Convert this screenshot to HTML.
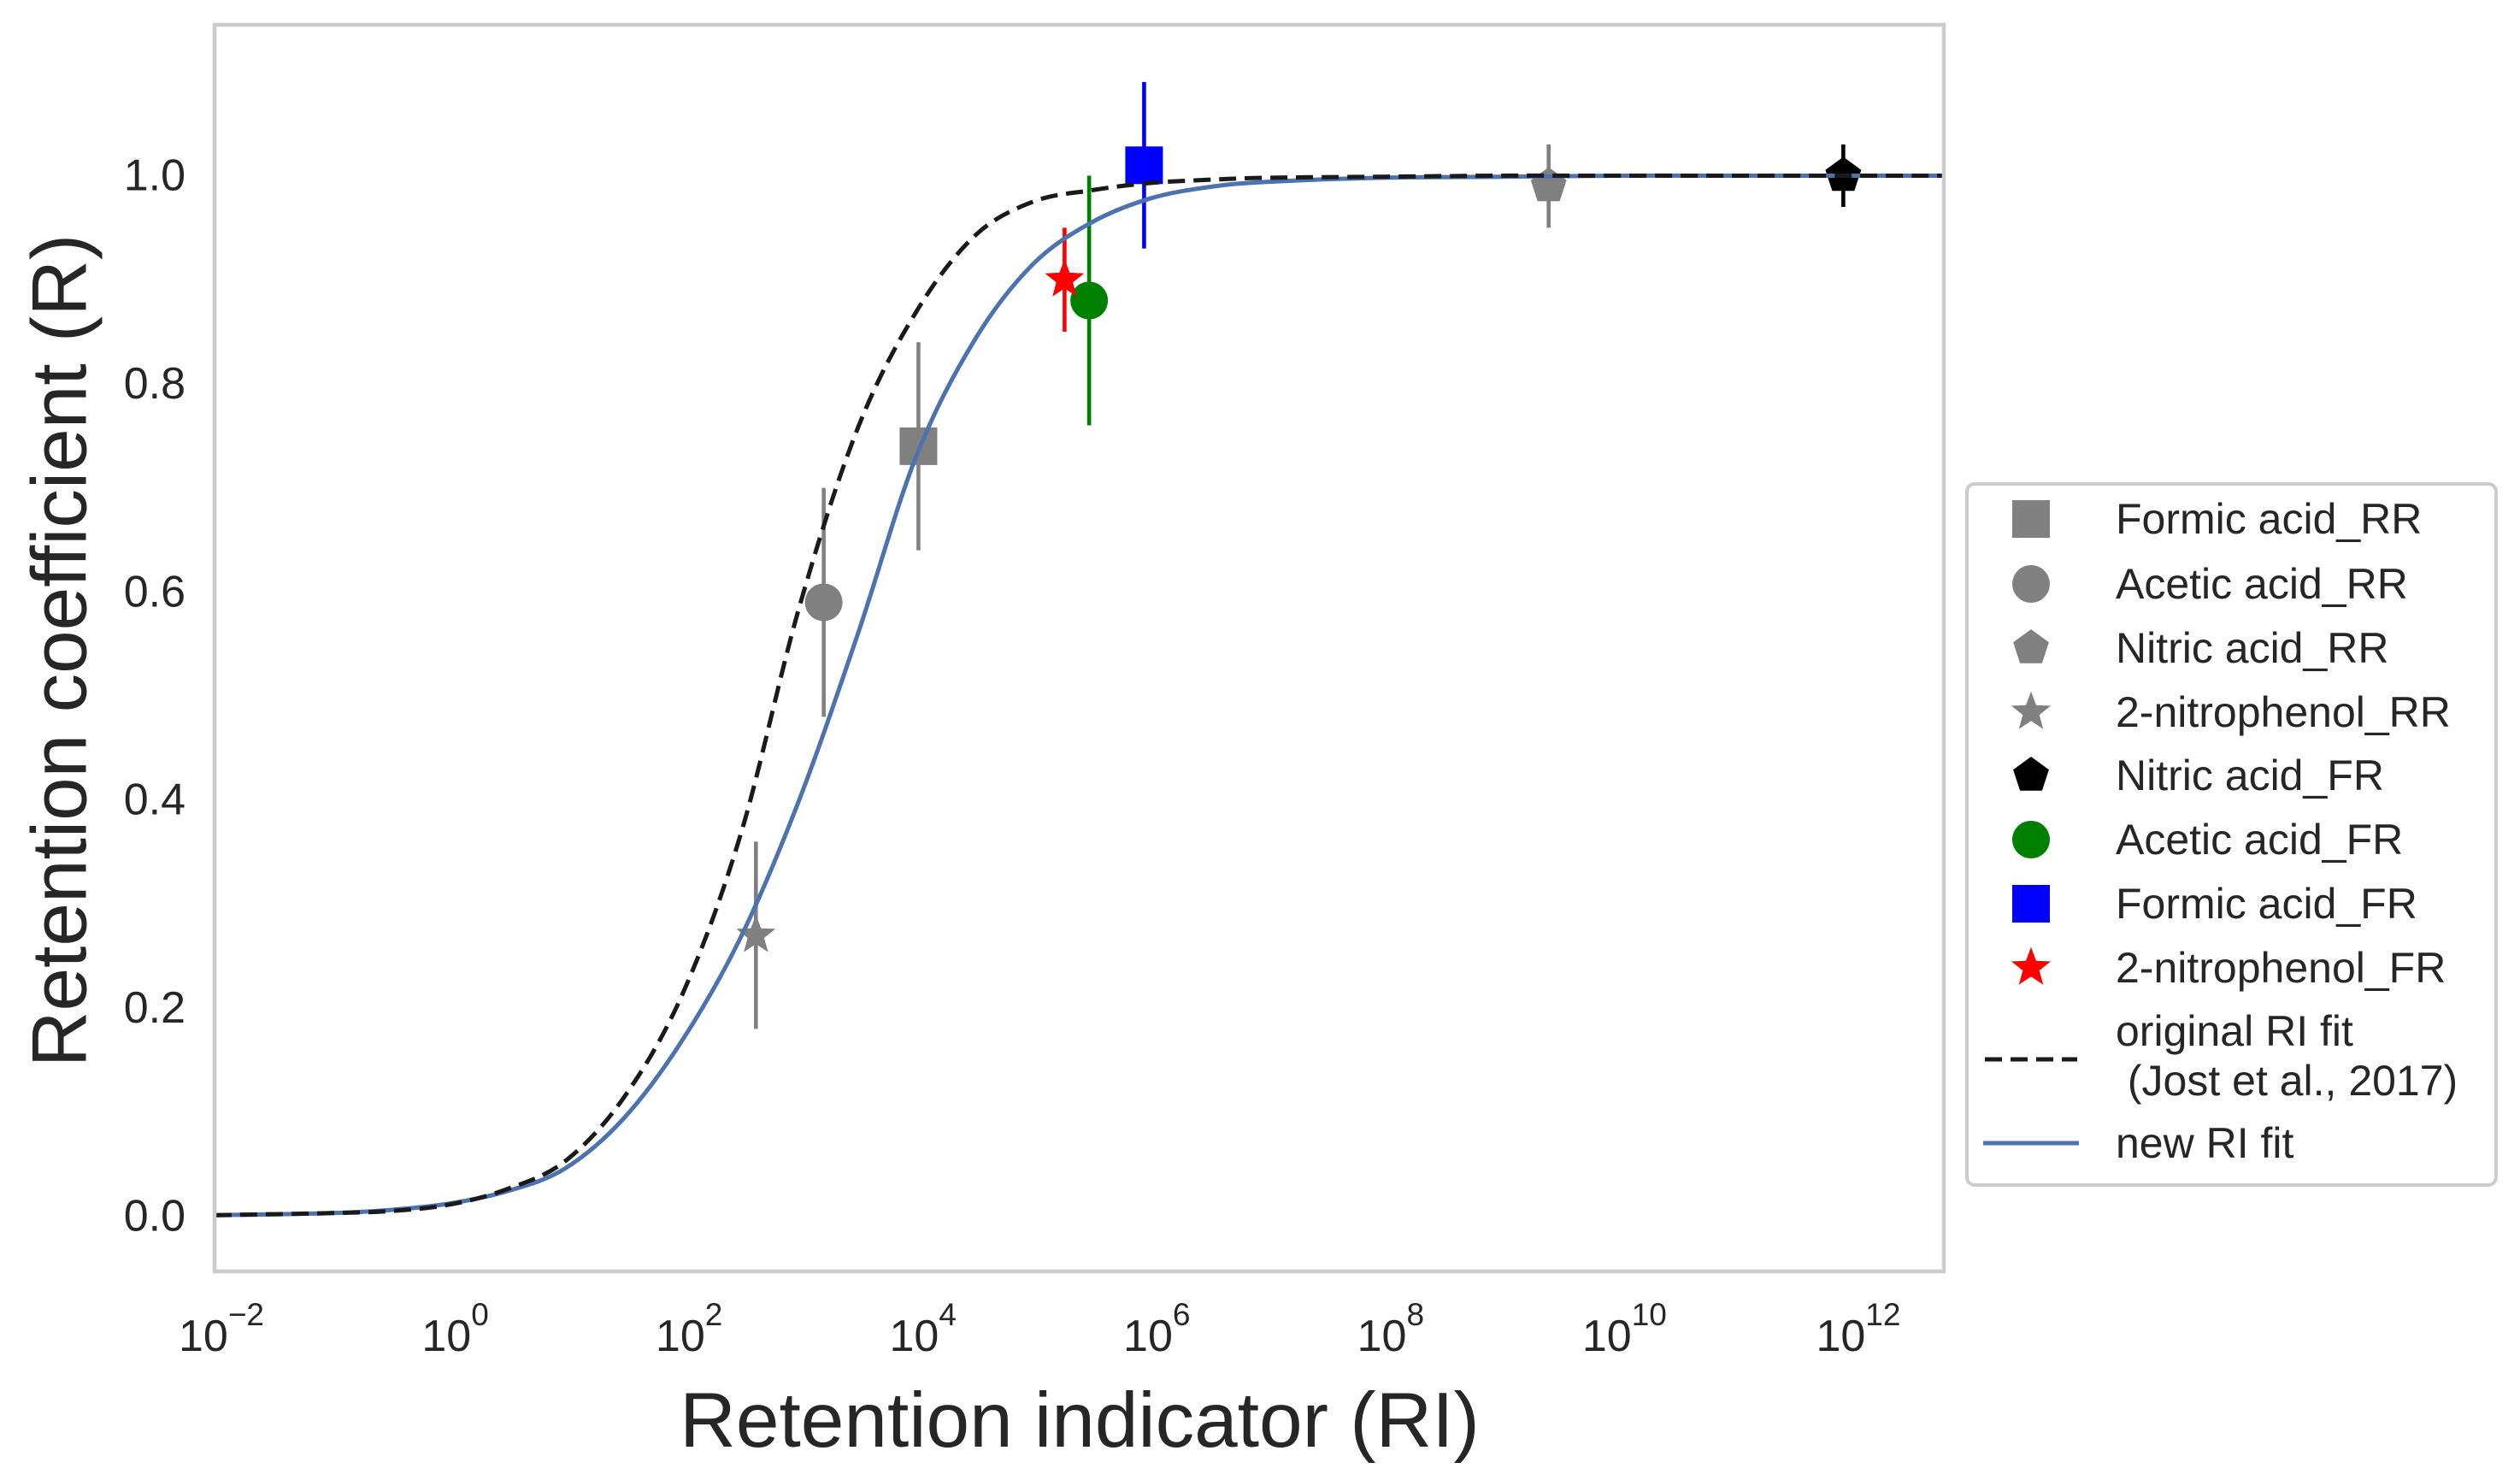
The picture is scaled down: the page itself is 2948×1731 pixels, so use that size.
<!DOCTYPE html>
<html><head><meta charset="utf-8">
<style>
html,body{margin:0;padding:0;background:#fff;}
svg{display:block;font-family:"Liberation Sans",Arial,sans-serif;}
</style></head>
<body>
<svg id="chart" xmlns="http://www.w3.org/2000/svg" width="2948" height="1731" viewBox="0 0 2948 1731">
<rect x="0" y="0" width="2948" height="1731" fill="#fff"/>
<g id="plot"></g>
<g id="axes"></g>
<text x="1263" y="1692" font-size="91" fill="#262626" text-anchor="middle">Retention indicator (RI)</text>
<text transform="translate(70,761) rotate(-90)" font-size="91" fill="#262626" text-anchor="middle" dominant-baseline="central">Retention coefficient (R)</text>
<g id="legend"></g>
</svg>
<script>
// ---- data ----
const seriesNames = ["Formic acid_RR","Acetic acid_RR","Nitric acid_RR","2-nitrophenol_RR","Nitric acid_FR","Acetic acid_FR","Formic acid_FR","2-nitrophenol_FR"];
const seriesLogRI = [4.02, 3.21, 9.41, 2.63, 11.93, 5.48, 5.95, 5.27];
const seriesR = [0.74, 0.59, 0.99, 0.27, 1.00, 0.88, 1.01, 0.90];
const seriesErr = [0.10, 0.11, 0.04, 0.09, 0.03, 0.12, 0.08, 0.05];
const seriesColors = ["#808080","#808080","#808080","#808080","#000000","#008000","#0000ff","#ff0000"];
const seriesMarkers = ["square","circle","pentagon","star","pentagon","circle","square","star"];
// fit curves sampled (log10 RI -> R)
const fitLogRI = [-2, -1, -0.5, 0, 0.5, 1, 1.5, 2, 2.5, 3, 3.5, 4, 4.5, 5, 5.5, 6, 6.5, 7, 8, 9, 10, 11, 12, 12.79];
const originalFitR = [0.001, 0.003, 0.005, 0.011, 0.026, 0.053, 0.114, 0.213, 0.367, 0.585, 0.757, 0.869, 0.942, 0.975, 0.986, 0.993, 0.996, 0.998, 0.999, 1.0, 1.0, 1.0, 1.0, 1.0];
const newFitR = [0.001, 0.003, 0.006, 0.012, 0.024, 0.046, 0.094, 0.169, 0.268, 0.400, 0.559, 0.730, 0.842, 0.915, 0.955, 0.978, 0.989, 0.994, 0.998, 0.999, 1.0, 1.0, 1.0, 1.0];
const xTickExps = [-2, 0, 2, 4, 6, 8, 10, 12];
const yTicks = [0.0, 0.2, 0.4, 0.6, 0.8, 1.0];

// ---- axes geometry ----
const L=251, R=2274, T=29, B=1487;
const xMin=-2, xMax=12.79, yMin=-0.053, yMax=1.145;
const X = lx => L + (lx - xMin) / (xMax - xMin) * (R - L);
const Y = v => B - (v - yMin) / (yMax - yMin) * (B - T);
const NS="http://www.w3.org/2000/svg";
function mk(tag, attrs, parent){const e=document.createElementNS(NS,tag);for(const k in attrs)e.setAttribute(k,attrs[k]);parent.appendChild(e);return e;}

function markerShape(type, cx, cy, s, color, parent){
  let e;
  if(type==="square"){e=mk("rect",{x:cx-s/2,y:cy-s/2,width:s,height:s,fill:color},parent);}
  else if(type==="circle"){e=mk("circle",{cx:cx,cy:cy,r:s/2,fill:color},parent);}
  else {
    const pts=[]; const n=type==="star"?10:5; const r=s/2*(type==="star"?1.1:1.0);
    for(let i=0;i<n;i++){const a=-Math.PI/2+i*2*Math.PI/n; const rr=(type==="star"&&i%2)?r*0.42:r; pts.push((cx+rr*Math.cos(a)).toFixed(1)+","+(cy+rr*Math.sin(a)).toFixed(1));}
    e=mk("polygon",{points:pts.join(" "),fill:color},parent);
  }
  return e;
}

const plot=document.getElementById("plot");
const axes=document.getElementById("axes");
const defs=mk("defs",{},document.getElementById("chart"));
const cp=mk("clipPath",{id:"clip"},defs);
mk("rect",{x:L,y:T,width:R-L,height:B-T},cp);
plot.setAttribute("clip-path","url(#clip)");

seriesNames.forEach((nm,i)=>{
  const g=mk("g",{},plot);
  
  
  const cx=X(seriesLogRI[i]);
  const eb=mk("line",{x1:cx,x2:cx,y1:Y(seriesR[i]-seriesErr[i]),y2:Y(seriesR[i]+seriesErr[i]),stroke:seriesColors[i],"stroke-width":4.6},g);
  
  
  const m=markerShape(seriesMarkers[i],cx,Y(seriesR[i]),44,seriesColors[i],g);
  
  
});

function curvePath(xs, ys){
  const p = xs.map((x,i)=>[X(x),Y(ys[i])]);
  let d="M"+p[0][0].toFixed(1)+","+p[0][1].toFixed(1);
  for(let i=0;i<p.length-1;i++){
    const p0=p[Math.max(0,i-1)], p1=p[i], p2=p[i+1], p3=p[Math.min(p.length-1,i+2)];
    const c1=[p1[0]+(p2[0]-p0[0])/6, p1[1]+(p2[1]-p0[1])/6];
    const c2=[p2[0]-(p3[0]-p1[0])/6, p2[1]-(p3[1]-p1[1])/6];
    d+="C"+c1[0].toFixed(1)+","+c1[1].toFixed(1)+" "+c2[0].toFixed(1)+","+c2[1].toFixed(1)+" "+p2[0].toFixed(1)+","+p2[1].toFixed(1);
  }
  return d;
}
const c1=mk("path",{d:curvePath(fitLogRI,newFitR),fill:"none",stroke:"#4c72b0","stroke-width":5},plot);


const c2=mk("path",{d:curvePath(fitLogRI,originalFitR),fill:"none",stroke:"#1a1a1a","stroke-width":5,"stroke-dasharray":"20,10"},plot);



const fr=mk("rect",{x:L,y:T,width:R-L,height:B-T,fill:"none",stroke:"#cccccc","stroke-width":4.5},axes);



yTicks.forEach(v=>{
  const t=mk("text",{x:L-34,y:Y(v),"font-size":52,fill:"#262626","text-anchor":"end","dominant-baseline":"central"},axes);
  t.textContent=v.toFixed(1);
  
  
});
xTickExps.forEach(e=>{
  const t=mk("text",{x:X(e)+8,y:1580,"font-size":52,fill:"#262626","text-anchor":"middle"},axes);
  
  
  const a=document.createElementNS(NS,"tspan"); a.textContent="10"; t.appendChild(a);
  const b=document.createElementNS(NS,"tspan"); b.setAttribute("dy","-30"); b.setAttribute("font-size","37"); b.textContent=(e<0?"\u2212":"")+Math.abs(e); t.appendChild(b);
});

const lg=document.getElementById("legend");
const box=mk("rect",{x:2301,y:566,width:619,height:820,rx:9,fill:"#fff",stroke:"#cccccc","stroke-width":4},lg);


const rowY=[607,683,758,833,907,982,1057,1132];
seriesNames.forEach((nm,i)=>{
  const g=mk("g",{},lg);
  
  
  markerShape(seriesMarkers[i],2376,rowY[i],44,seriesColors[i],g);
  const t=mk("text",{x:2475,y:rowY[i],"font-size":50,fill:"#262626","dominant-baseline":"central"},g);
  t.textContent=nm;
});
const g1=mk("g",{},lg);


mk("line",{x1:2322,x2:2430,y1:1239,y2:1239,stroke:"#1a1a1a","stroke-width":5,"stroke-dasharray":"20,10"},g1);
const t1=mk("text",{x:2475,y:1206,"font-size":50,fill:"#262626","dominant-baseline":"central"},g1); t1.textContent="original RI fit";
const t2=mk("text",{x:2475,y:1264,"font-size":50,fill:"#262626","dominant-baseline":"central"},g1); t2.textContent="\u00a0(Jost et al., 2017)";
const g2=mk("g",{},lg);


mk("line",{x1:2320,x2:2432,y1:1337,y2:1337,stroke:"#4c72b0","stroke-width":5},g2);
const t3=mk("text",{x:2475,y:1337,"font-size":50,fill:"#262626","dominant-baseline":"central"},g2); t3.textContent="new RI fit";
</script>
</body></html>
